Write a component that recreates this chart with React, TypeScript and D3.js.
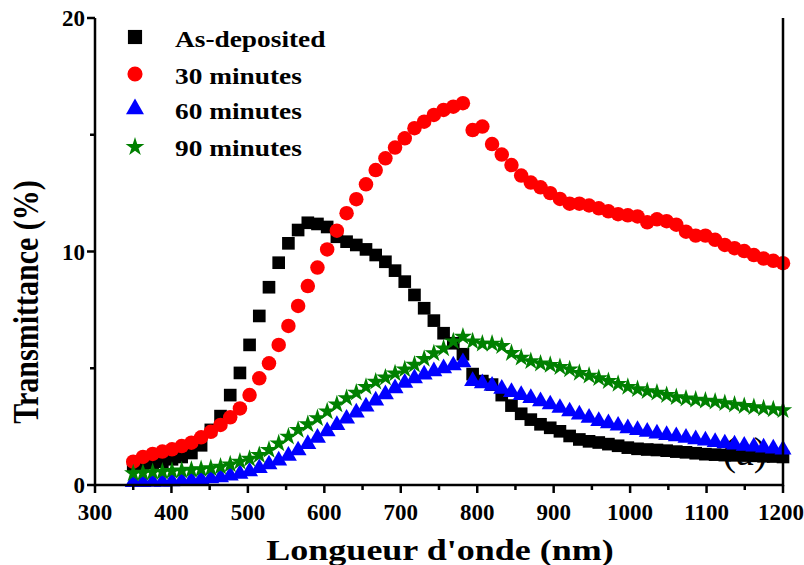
import React from 'react';
import * as d3 from 'd3';

// Sampling grid (nm)
const wavelengths = [
  350.0, 362.7, 375.4, 388.1, 400.7, 413.4, 426.1, 438.8, 451.5, 464.2,
  476.9, 489.6, 502.2, 514.9, 527.6, 540.3, 553.0, 565.7, 578.4, 591.0,
  603.7, 616.4, 629.1, 641.8, 654.5, 667.2, 679.9, 692.5, 705.2, 717.9,
  730.6, 743.3, 756.0, 768.7, 781.3, 794.0, 806.7, 819.4, 832.1, 844.8,
  857.5, 870.1, 882.8, 895.5, 908.2, 920.9, 933.6, 946.3, 959.0, 971.6,
  984.3, 997.0, 1009.7, 1022.4, 1035.1, 1047.8, 1060.4, 1073.1, 1085.8, 1098.5,
  1111.2, 1123.9, 1136.6, 1149.3, 1161.9, 1174.6, 1187.3, 1200.0,
];

// Transmittance (%)
const asDeposited = [
  0.85, 0.9, 0.95, 1.0, 1.1, 1.2, 1.37, 1.7, 2.36, 2.95,
  3.85, 4.8, 6.0, 7.24, 8.47, 9.52, 10.35, 10.92, 11.23, 11.18,
  11.05, 10.63, 10.42, 10.28, 10.09, 9.85, 9.56, 9.18, 8.71, 8.14,
  7.57, 7.04, 6.5, 6.07, 5.6, 4.75, 4.45, 4.3, 3.85, 3.4,
  3.05, 2.8, 2.6, 2.45, 2.3, 2.1, 1.95, 1.87, 1.82, 1.75,
  1.68, 1.6, 1.55, 1.52, 1.5, 1.47, 1.43, 1.4, 1.36, 1.32,
  1.3, 1.28, 1.27, 1.26, 1.25, 1.23, 1.22, 1.2,
];

const min30 = [
  1.0, 1.2, 1.33, 1.43, 1.53, 1.67, 1.81, 2.04, 2.28, 2.57,
  2.9, 3.28, 3.85, 4.57, 5.21, 6.0, 6.81, 7.67, 8.52, 9.31,
  10.09, 10.89, 11.64, 12.24, 12.88, 13.49, 13.99, 14.45, 14.85, 15.28,
  15.56, 15.85, 16.06, 16.2, 16.35, 15.2, 15.35, 14.6, 14.15, 13.7,
  13.25, 12.95, 12.75, 12.5, 12.25, 12.05, 12.05, 11.97, 11.85, 11.72,
  11.6, 11.55, 11.5, 11.25, 11.38, 11.3, 11.15, 10.85, 10.68, 10.68,
  10.5, 10.28, 10.14, 10.02, 9.85, 9.7, 9.6, 9.5,
];

const min60 = [
  0.12, 0.12, 0.13, 0.14, 0.16, 0.18, 0.2, 0.24, 0.28, 0.33,
  0.4, 0.48, 0.58, 0.72, 0.88, 1.05, 1.25, 1.48, 1.75, 2.02,
  2.3, 2.57, 2.84, 3.1, 3.36, 3.62, 3.88, 4.14, 4.38, 4.57,
  4.73, 4.87, 5.0, 5.12, 5.25, 4.45, 4.35, 4.25, 4.12, 3.98,
  3.85, 3.72, 3.58, 3.45, 3.3, 3.15, 3.02, 2.88, 2.74, 2.64,
  2.54, 2.43, 2.35, 2.28, 2.2, 2.14, 2.08, 2.02, 1.96, 1.9,
  1.84, 1.78, 1.73, 1.68, 1.64, 1.6, 1.56, 1.52,
];

const min90 = [
  0.5, 0.52, 0.55, 0.57, 0.6, 0.62, 0.65, 0.68, 0.72, 0.78,
  0.88, 1.0, 1.12, 1.28, 1.5, 1.78, 2.07, 2.36, 2.6, 2.86,
  3.15, 3.45, 3.72, 3.95, 4.2, 4.42, 4.6, 4.78, 4.95, 5.15,
  5.4, 5.64, 5.85, 6.15, 6.35, 6.15, 6.05, 6.05, 5.95, 5.65,
  5.45, 5.3, 5.2, 5.14, 5.05, 4.95, 4.8, 4.68, 4.57, 4.45,
  4.33, 4.2, 4.1, 4.02, 3.95, 3.85, 3.76, 3.7, 3.65, 3.61,
  3.57, 3.5, 3.44, 3.38, 3.33, 3.28, 3.24, 3.2,
];

const seriesNames = ['As-deposited', '30 minutes', '60 minutes', '90 minutes'];
const xTickValues = [300, 400, 500, 600, 700, 800, 900, 1000, 1100, 1200];
const xMinorValues = [350, 450, 550, 650, 750, 850, 950, 1050, 1150];
const yTickValues = [0, 10, 20];
const yMinorValues = [5, 15];

const W = 804;
const H = 565;
const margin = { left: 95, right: 21, top: 18, bottom: 80 };

const FONT = "'Liberation Serif', 'Times New Roman', serif";

export default function App() {
  const x = d3.scaleLinear().domain([300, 1200]).range([margin.left, W - margin.right]);
  const y = d3.scaleLinear().domain([0, 20]).range([H - margin.bottom, margin.top]);

  const series = [
    { name: seriesNames[0], values: asDeposited, color: '#000000', symbol: d3.symbolSquare, size: 160, legendSize: 200 },
    { name: seriesNames[1], values: min30, color: '#ff0000', symbol: d3.symbolCircle, size: 165, legendSize: 180 },
    { name: seriesNames[2], values: min60, color: '#0000ff', symbol: d3.symbolTriangle, size: 125, legendSize: 140 },
    { name: seriesNames[3], values: min90, color: '#008000', symbol: d3.symbolStar, size: 105, legendSize: 110 },
  ];

  const x0 = x.range()[0];
  const x1 = x.range()[1];
  const yb = y.range()[0];
  const yt = y.range()[1];

  return (
    <svg
      width={W}
      height={H}
      style={{ position: 'absolute', left: 0, top: 0, background: '#ffffff' }}
      fontFamily={FONT}
    >
      <rect x={0} y={0} width={W} height={H} fill="#ffffff" />

      {/* panel tag */}
      <text x={745} y={465} fontSize={40} textAnchor="middle" fill="#000">(a)</text>

      {/* data markers */}
      {series.map((s) => {
        const path = d3.symbol().type(s.symbol).size(s.size)() as string;
        return (
          <g key={s.name} fill={s.color}>
            {s.values.map((v, i) => (
              <path key={i} d={path} transform={`translate(${x(wavelengths[i])},${y(v)})`} />
            ))}
          </g>
        );
      })}

      {/* axes */}
      <g stroke="#000" strokeWidth={2.5} fill="none">
        <line x1={x0} y1={yb} x2={x1} y2={yb} />
        <line x1={x0} y1={yb + 1.2} x2={x0} y2={yt} />
        <line x1={x1} y1={yb + 1.2} x2={x1} y2={yt} />
        {xTickValues.map((t) => (
          <line key={'xt' + t} x1={x(t)} x2={x(t)} y1={yb} y2={yb + 8} />
        ))}
        {xMinorValues.map((t) => (
          <line key={'xm' + t} x1={x(t)} x2={x(t)} y1={yb} y2={yb + 5} />
        ))}
        {yTickValues.map((t) => (
          <line key={'yt' + t} x1={x0} x2={x0 - 8} y1={y(t)} y2={y(t)} />
        ))}
        {yMinorValues.map((t) => (
          <line key={'ym' + t} x1={x0} x2={x0 - 5} y1={y(t)} y2={y(t)} />
        ))}
      </g>

      <g fontSize={23} fontWeight="bold" fill="#000">
        {xTickValues.map((t) => (
          <text key={'xl' + t} x={t === 1200 ? x(t) - 2 : x(t)} y={yb + 35} textAnchor="middle">{t}</text>
        ))}
        {yTickValues.map((t) => (
          <text key={'yl' + t} x={x0 - 10} y={y(t) + 8} textAnchor="end">{t}</text>
        ))}
      </g>

      {/* axis titles */}
      <text
        transform={`translate(440,560) scale(1.2,1)`}
        textAnchor="middle"
        fontSize={30}
        fontWeight="bold"
        fill="#000"
      >
        Longueur d'onde (nm)
      </text>
      <text
        transform={`translate(38,302) scale(1.2,1) rotate(-90)`}
        textAnchor="middle"
        fontSize={30}
        fontWeight="bold"
        fill="#000"
      >
        Transmittance (%)
      </text>

      {/* legend */}
      {series.map((s, i) => {
        const rowY = [37, 74, 109, 147][i];
        const path = d3.symbol().type(s.symbol).size(s.legendSize)() as string;
        return (
          <g key={'lg' + s.name}>
            <path d={path} fill={s.color} transform={`translate(135,${rowY})`} />
            <text
              transform={`translate(175,${[47, 84, 119, 156][i]}) scale(1.19,1)`}
              fontSize={23}
              fontWeight="bold"
              fill="#000"
            >
              {s.name}
            </text>
          </g>
        );
      })}
    </svg>
  );
}
